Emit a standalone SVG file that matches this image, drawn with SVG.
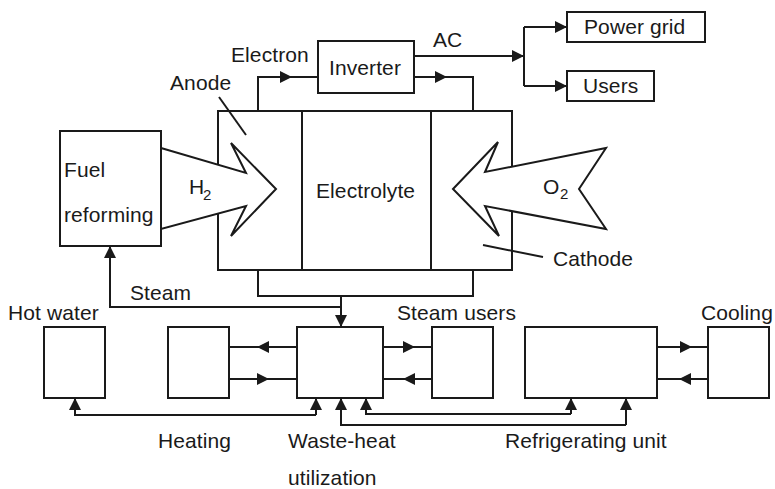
<svg xmlns="http://www.w3.org/2000/svg" width="775" height="489" viewBox="0 0 775 489">
<defs>
<marker id="ah" viewBox="0 0 12 12" refX="12" refY="6" markerWidth="12" markerHeight="12" markerUnits="userSpaceOnUse" orient="auto">
<path d="M0,0 L12,6 L0,12 Z" fill="#1a1a1a"/>
</marker>
</defs>
<style>
.b{fill:#fff;stroke:#1a1a1a;stroke-width:2}
.l{fill:none;stroke:#1a1a1a;stroke-width:2}
text{font-family:"Liberation Sans",Arial,sans-serif;font-size:21px;fill:#1a1a1a;letter-spacing:0.1px}
.s{font-size:15px}
</style>
<rect width="775" height="489" fill="#fff"/>

<g id="cell">
<rect class="b" x="218" y="111" width="294" height="159"/>
<line class="l" x1="302" y1="111" x2="302" y2="270"/>
<line class="l" x1="431" y1="111" x2="431" y2="270"/>
<text x="316" y="198">Electrolyte</text>
</g>
<g id="anode-label"><text x="170" y="90">Anode</text></g>
<g id="cathode-label"><text x="553" y="266">Cathode</text></g>
<g id="electron-label"><text x="231" y="62">Electron</text></g>
<g id="ac-label"><text x="433" y="47">AC</text></g>

<g id="inverter">
<rect class="b" x="318" y="41" width="96" height="52"/>
<text x="329" y="75">Inverter</text>
</g>
<g id="power-grid">
<rect class="b" x="567" y="12" width="138" height="30"/>
<text x="584" y="34">Power grid</text>
</g>
<g id="users">
<rect class="b" x="567" y="71" width="87" height="30"/>
<text x="583" y="93">Users</text>
</g>

<g id="fuel-reforming">
<rect class="b" x="60" y="131" width="101" height="115"/>
<text x="64" y="177">Fuel</text>
<text x="64" y="222">reforming</text>
</g>

<g id="h2-arrow">
<polygon class="b" points="161,148 246,173 231,143 276,189 231,236 246,206 161,229"/>
<text x="189" y="194">H</text><text class="s" x="203" y="200">2</text>
</g>
<g id="o2-arrow">
<polygon class="b" points="453,189 498,142 485,172 606,148 579,189 606,229 485,206 499,236"/>
<text x="543" y="194">O</text><text class="s" x="560" y="199">2</text>
</g>

<g id="steam-label"><text x="130" y="300">Steam</text></g>

<g id="hot-water">
<rect class="b" x="44" y="327" width="61" height="71"/>
<text x="8" y="320">Hot water</text>
</g>
<g id="heating">
<rect class="b" x="168" y="327" width="61" height="71"/>
<text x="158" y="448">Heating</text>
</g>
<g id="waste-heat">
<rect class="b" x="297" y="327" width="86" height="71"/>
<text x="288" y="448">Waste-heat</text>
<text x="288" y="485">utilization</text>
</g>
<g id="steam-users">
<rect class="b" x="432" y="327" width="61" height="71"/>
<text x="397" y="320">Steam users</text>
</g>
<g id="refrigerating-unit">
<rect class="b" x="525" y="327" width="132" height="71"/>
<text x="505" y="448">Refrigerating unit</text>
</g>
<g id="cooling">
<rect class="b" x="708" y="327" width="61" height="71"/>
<text x="701" y="320">Cooling</text>
</g>

<g id="connectors">
<!-- electron -->
<path class="l" d="M258,111 V77 H318"/>
<path class="l" d="M258,77 H292" marker-end="url(#ah)"/>
<path class="l" d="M414,77 H473 V111"/>
<path class="l" d="M414,77 H447" marker-end="url(#ah)"/>
<!-- AC -->
<path class="l" d="M414,56 H524" marker-end="url(#ah)"/>
<path class="l" d="M524,27 V86"/>
<path class="l" d="M524,27 H567" marker-end="url(#ah)"/>
<path class="l" d="M524,86 H567" marker-end="url(#ah)"/>
<!-- steam -->
<path class="l" d="M258,270 V296 H473 V270"/>
<path class="l" d="M341,296 V327" marker-end="url(#ah)"/>
<path class="l" d="M341,307 H110 V246" marker-end="url(#ah)"/>
<!-- heating -->
<path class="l" d="M297,347 H229"/>
<path class="l" d="M297,347 H257" marker-end="url(#ah)"/>
<path class="l" d="M229,379 H297"/>
<path class="l" d="M229,379 H269" marker-end="url(#ah)"/>
<!-- steam users -->
<path class="l" d="M383,347 H432"/>
<path class="l" d="M383,347 H415" marker-end="url(#ah)"/>
<path class="l" d="M432,379 H383"/>
<path class="l" d="M432,379 H403" marker-end="url(#ah)"/>
<!-- cooling -->
<path class="l" d="M657,347 H708"/>
<path class="l" d="M657,347 H692" marker-end="url(#ah)"/>
<path class="l" d="M708,379 H657"/>
<path class="l" d="M708,379 H679" marker-end="url(#ah)"/>
<!-- bottom -->
<path class="l" d="M316,415 V398" marker-end="url(#ah)"/>
<path class="l" d="M316,415 H75 V398" marker-end="url(#ah)"/>
<path class="l" d="M626,425 H341 V398" marker-end="url(#ah)"/>
<path class="l" d="M626,425 V398" marker-end="url(#ah)"/>
<path class="l" d="M571,414 H366 V398" marker-end="url(#ah)"/>
<path class="l" d="M571,414 V398" marker-end="url(#ah)"/>
<!-- leaders -->
<path class="l" d="M219,97 L246,135"/>
<path class="l" d="M483,245 L543,257"/>
</g>
</svg>
